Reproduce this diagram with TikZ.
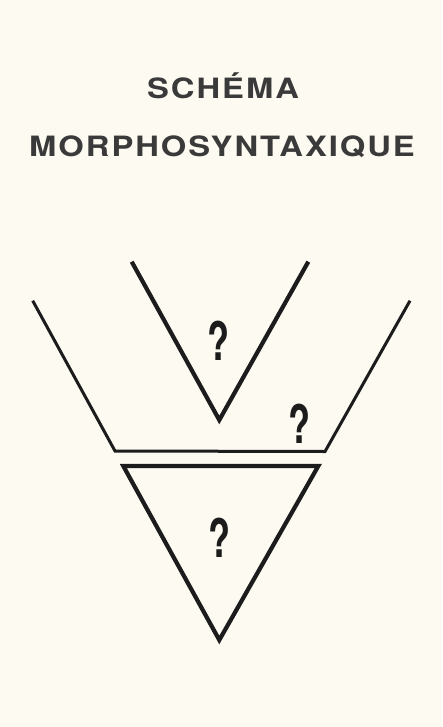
\documentclass[tikz,border=0pt]{standalone}
\usepackage{fontspec}
\newfontfamily\titlefont{texgyreheros-bold.otf}[LetterSpace=6]
\newfontfamily\qfont{texgyreheros-bold.otf}
\definecolor{bgcol}{HTML}{FDFAF2}
\definecolor{titlecol}{HTML}{3A3A3A}
\definecolor{linecol}{HTML}{1C1C1C}
\tikzset{
  titletext/.style={font=\titlefont\fontsize{28}{32}\selectfont, text=titlecol, inner sep=0pt, anchor=base},
  qmark/.style={font=\qfont\fontsize{53}{58}\selectfont, text=linecol, inner sep=0pt},
  thickline/.style={draw=linecol, line width=4.2pt, line join=miter},
  midline/.style={draw=linecol, line width=3pt, line join=miter},
}
\begin{document}
\begin{tikzpicture}[x=1pt,y=-1pt]
\fill[bgcol] (0,0) rectangle (442,727);
\useasboundingbox (0,0) rectangle (442,727);
\node[titletext] (t1) at (223,98.5) {\scalebox{1.17}[1]{SCHÉMA}};
\node[titletext] (t2) at (222,157) {\scalebox{1.17}[1]{MORPHOSYNTAXIQUE}};
% upper V
\coordinate (vl) at (131.7,261.7);
\coordinate (va) at (219.3,420);
\coordinate (vr) at (308.3,261.7);
\draw[thickline] (vl) -- (va) -- (vr);
% outer trapezoid
\coordinate (ol) at (32.7,300.7);
\coordinate (obl) at (115,451);
\coordinate (obr) at (325,451.5);
\coordinate (or) at (410,300.7);
\draw[midline] (ol) -- (obl) -- (obr) -- (or);
% lower triangle
\coordinate (tl) at (123.3,466);
\coordinate (tr) at (318.3,466);
\coordinate (ta) at (219.3,640);
\draw[thickline] (tl) -- (tr) -- (ta) -- cycle;
\node[qmark] (q1) at (219,341) {\scalebox{0.68}[1]{?}};
\node[qmark] (q2) at (299.5,423.5) {\scalebox{0.68}[1]{?}};
\node[qmark] (q3) at (219.5,538) {\scalebox{0.68}[1]{?}};
\end{tikzpicture}
\end{document}
